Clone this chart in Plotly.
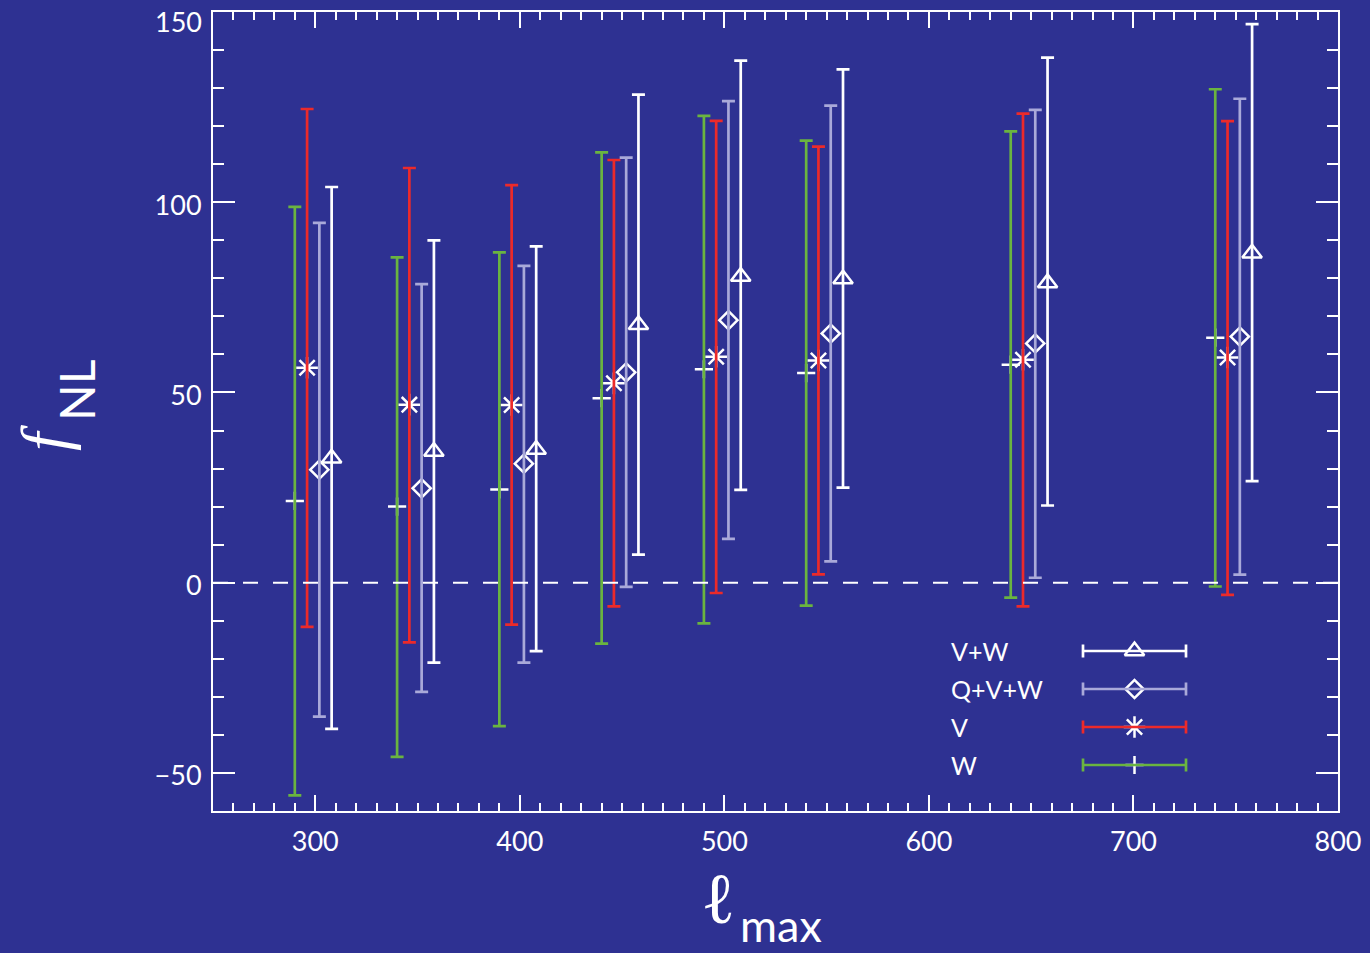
import numpy as np
import plotly.graph_objects as go

# ---------------- data ----------------
LMAX = [300, 350, 400, 450, 500, 550, 650, 750]

W_VAL = [21.5, 20.0, 24.5, 48.5, 56.1, 55.1, 57.3, 64.4]
W_HI = [98.8, 85.5, 86.8, 113.1, 122.7, 116.2, 118.6, 129.7]
W_LO = [-55.9, -45.8, -37.7, -16.0, -10.7, -6.0, -3.9, -1.0]

V_VAL = [56.5, 46.8, 46.7, 52.4, 59.4, 58.4, 58.6, 59.2]
V_HI = [124.5, 109.0, 104.5, 111.1, 121.4, 114.6, 123.3, 121.3]
V_LO = [-11.6, -15.7, -11.0, -6.2, -2.7, 2.2, -6.2, -3.2]

QVW_VAL = [29.7, 24.8, 31.3, 55.3, 69.0, 65.5, 62.9, 64.7]
QVW_HI = [94.6, 78.5, 83.3, 111.7, 126.6, 125.4, 124.3, 127.2]
QVW_LO = [-35.2, -28.7, -21.0, -1.1, 11.5, 5.6, 1.3, 2.1]

VW_VAL = [32.7, 34.5, 35.0, 67.8, 80.5, 79.8, 78.8, 86.6]
VW_HI = [104.0, 90.0, 88.4, 128.3, 137.2, 134.9, 138.0, 146.8]
VW_LO = [-38.4, -21.0, -18.0, 7.4, 24.4, 25.0, 20.3, 26.7]

X_TICKS = [300, 400, 500, 600, 700, 800]
Y_TICKS = [-50, 0, 50, 100, 150]
Y_TICK_LABELS = ["\u221250", "0", "50", "100", "150"]

# ---------------- style ----------------
BG = "#2E3192"
WHITE = "#FFFFFF"
LAV = "#A9A9D9"
RED = "#EC2A2A"
GREEN = "#6AB440"
FONT = "Lato"

W_PX, H_PX = 1370, 953
ML, MR, MT, MB = 213, 32, 12, 142
PW = W_PX - ML - MR
PH = H_PX - MT - MB


def px(xp):
    return (xp - ML) / PW


def py(yp):
    return (H_PX - MB - yp) / PH


series = [
    # name, values, hi, lo, offset, bar colour, symbol, size
    ("W", W_VAL, W_HI, W_LO, -10, GREEN, "cross-thin-open", 13),
    ("V", V_VAL, V_HI, V_LO, -4, RED, "asterisk-open", 18),
    ("Q+V+W", QVW_VAL, QVW_HI, QVW_LO, 2, LAV, "diamond-open", 14),
    ("V+W", VW_VAL, VW_HI, VW_LO, 8, WHITE, "triangle-up-open", 17),
]

fig = go.Figure()
lm = np.array(LMAX, dtype=float)
for name, val, hi, lo, off, col, sym, size in series:
    v = np.array(val)
    xs = lm + off
    fig.add_trace(go.Scatter(
        x=xs, y=v, mode="markers", showlegend=False,
        marker=dict(symbol=sym, size=size, color=WHITE,
                    line=dict(color=WHITE, width=2.5)),
        hoverinfo="skip"))
    fig.add_trace(go.Scatter(
        x=xs, y=v, mode="markers", showlegend=False, name=name,
        marker=dict(size=1, color="rgba(0,0,0,0)"),
        error_y=dict(type="data", symmetric=False,
                     array=np.array(hi) - v, arrayminus=v - np.array(lo),
                     color=col, thickness=2.7, width=6.5)))

# ---------------- custom legend (overlay frame) ----------------
LEG_ORDER = ["V+W", "Q+V+W", "V", "W"]
LEG_ROWS_PX = [651, 689, 727, 765]
LEG_TEXT_X = 949
LEG_LINE_X0, LEG_LINE_X1 = 1083, 1186
annotations = []
lookup = {s[0]: s for s in series}
for lab, yrow in zip(LEG_ORDER, LEG_ROWS_PX):
    name, val, hi, lo, off, col, sym, size = lookup[lab]
    xc = (px(LEG_LINE_X0) + px(LEG_LINE_X1)) / 2
    hw = (px(LEG_LINE_X1) - px(LEG_LINE_X0)) / 2
    fig.add_trace(go.Scatter(
        x=[xc], y=[py(yrow)], xaxis="x2", yaxis="y2", mode="markers",
        showlegend=False, hoverinfo="skip",
        marker=dict(symbol=sym, size=size, color=WHITE,
                    line=dict(color=WHITE, width=2.5))))
    fig.add_trace(go.Scatter(
        x=[xc], y=[py(yrow)], xaxis="x2", yaxis="y2", mode="markers",
        showlegend=False, hoverinfo="skip",
        marker=dict(size=1, color="rgba(0,0,0,0)"),
        error_x=dict(type="constant", value=hw, color=col,
                     thickness=2.7, width=6.5)))
    annotations.append(dict(
        text=lab, x=px(LEG_TEXT_X), y=py(yrow), xref="paper", yref="paper",
        xanchor="left", yanchor="middle", showarrow=False,
        font=dict(family=FONT, size=25, color=WHITE)))

# top y tick label sits a little below its tick (as in the reference)
top_idx = len(Y_TICKS) - 1
y_ticktext = Y_TICK_LABELS[:top_idx] + [""]
annotations.append(dict(
    text=Y_TICK_LABELS[top_idx], x=0, y=Y_TICKS[top_idx], xref="paper",
    yref="y", xanchor="right", yanchor="middle", xshift=-9, yshift=-9,
    showarrow=False, font=dict(family=FONT, size=27, color=WHITE)))

# ---------------- axis titles ----------------
annotations += [
    dict(text="<i>f</i>", x=px(44), y=py(438), xref="paper", yref="paper",
         textangle=-90, showarrow=False, xanchor="center", yanchor="middle",
         font=dict(family="Liberation Serif", size=66, color=WHITE)),
    dict(text="NL", x=px(76), y=py(391), xref="paper", yref="paper",
         textangle=-90, showarrow=False, xanchor="center", yanchor="middle",
         font=dict(family=FONT, size=48, color=WHITE)),
    dict(text="ℓ", x=px(718), y=py(899), xref="paper", yref="paper",
         showarrow=False, xanchor="center", yanchor="middle",
         font=dict(family="Liberation Serif", size=72, color=WHITE)),
    dict(text="max", x=px(781), y=py(925), xref="paper", yref="paper",
         showarrow=False, xanchor="center", yanchor="middle",
         font=dict(family=FONT, size=45, color=WHITE)),
]


def axis_style(major_len, minor_len):
    return dict(
        showline=True, linecolor=WHITE, linewidth=2, mirror="allticks",
        ticks="inside", ticklen=major_len, tickwidth=2, tickcolor=WHITE,
        showgrid=False, zeroline=False, automargin=False,
        ticklabeloverflow="allow",
        tickfont=dict(family=FONT, size=27, color=WHITE),
        minor=dict(dtick=10, tick0=0, ticks="inside", ticklen=minor_len,
                   tickwidth=2, tickcolor=WHITE, showgrid=False),
    )


fig.update_layout(
    width=W_PX, height=H_PX,
    margin=dict(l=ML, r=MR, t=MT, b=MB, autoexpand=False),
    paper_bgcolor=BG, plot_bgcolor=BG,
    showlegend=False,
    xaxis=dict(range=[250, 800], tickvals=X_TICKS, ticklabelstandoff=6,
               **axis_style(16, 8)),
    yaxis=dict(range=[-60, 150], tickvals=Y_TICKS, ticktext=y_ticktext,
               ticklabelstandoff=4, ticklabelshift=3,
               **axis_style(22, 11)),
    xaxis2=dict(range=[0, 1], overlaying="x", visible=False, fixedrange=True),
    yaxis2=dict(range=[0, 1], overlaying="y", visible=False, fixedrange=True),
    shapes=[dict(type="line", xref="paper", x0=0, x1=1, yref="y", y0=0, y1=0,
                 line=dict(color=WHITE, width=2, dash="15px,15px"),
                 layer="above")],
    annotations=annotations,
)

fig.write_html(
    "out.html",
    config={"displayModeBar": False},
    post_script="document.body.style.margin='0px';"
                "document.body.style.overflow='hidden';"
                "document.body.style.background='" + BG + "';",
)
